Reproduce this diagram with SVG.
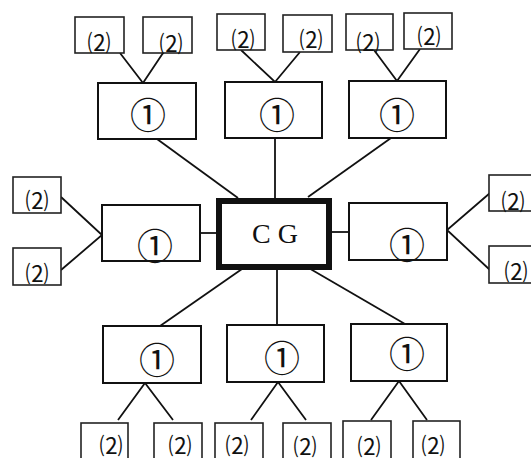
<svg xmlns="http://www.w3.org/2000/svg" width="531" height="458" viewBox="0 0 531 458">
<style>
.b{fill:#fff;stroke:#111;stroke-width:2}
.s{fill:#fff;stroke:#222;stroke-width:1.6}
.c{fill:none;stroke:#111;stroke-width:1.8}
.t1{font-family:"Noto Sans CJK JP","DejaVu Sans",sans-serif;font-size:36px;text-anchor:middle;dominant-baseline:central;fill:#111}
.t2{font-family:"Noto Sans CJK JP","DejaVu Sans",sans-serif;font-size:23px;text-anchor:middle;dominant-baseline:central;fill:#111}
</style>
<rect width="531" height="458" fill="#fff"/>
<g id="connectors" class="c">
<path d="M157 139 L238 198"/>
<path d="M275 138 L275 198"/>
<path d="M391 138 L308 197"/>
<path d="M200 233 L218 233"/>
<path d="M332 232 L349 232"/>
<path d="M242 269 L160 326"/>
<path d="M277 267 L277 325"/>
<path d="M307 267 L405 324"/>
<path d="M120 53 L143 83 L163 53"/>
<path d="M241 50 L275 82 L300 52"/>
<path d="M374 50 L397 81 L420 49"/>
<path d="M61 197 L102 235 L61 270"/>
<path d="M490 193 L447 230 L490 270"/>
<path d="M118 420 L145 383 L173 420"/>
<path d="M251 420 L278 382 L306 420"/>
<path d="M371 420 L399 381 L427 420"/>
</g>
<g id="cg">
<rect x="219" y="201" width="110" height="66" fill="#fff" stroke="#111" stroke-width="6"/>
<text x="275" y="243" font-family="Liberation Serif,serif" font-size="28" text-anchor="middle" fill="#111">C G</text>
</g>
<g id="n1-tl"><rect class="b" x="98" y="83" width="98" height="56"/><text class="t1" x="148" y="113">①</text></g>
<g id="n1-tm"><rect class="b" x="225" y="82" width="97" height="56"/><text class="t1" x="277" y="113">①</text></g>
<g id="n1-tr"><rect class="b" x="349" y="81" width="97" height="57"/><text class="t1" x="397" y="113">①</text></g>
<g id="n1-l"><rect class="b" x="102" y="205" width="98" height="56"/><text class="t1" x="155" y="244">①</text></g>
<g id="n1-r"><rect class="b" x="349" y="203" width="98" height="57"/><text class="t1" x="407" y="243">①</text></g>
<g id="n1-bl"><rect class="b" x="103" y="326" width="98" height="57"/><text class="t1" x="157" y="358">①</text></g>
<g id="n1-bm"><rect class="b" x="227" y="325" width="97" height="57"/><text class="t1" x="282" y="356">①</text></g>
<g id="n1-br"><rect class="b" x="351" y="324" width="96" height="57"/><text class="t1" x="407" y="352">①</text></g>
<g id="n2-1"><rect class="s" x="75" y="17" width="49" height="36"/><text class="t2" x="99" y="41">⑵</text></g>
<g id="n2-2"><rect class="s" x="143" y="17" width="49" height="36"/><text class="t2" x="171" y="42">⑵</text></g>
<g id="n2-3"><rect class="s" x="217" y="14" width="48" height="36"/><text class="t2" x="243" y="38">⑵</text></g>
<g id="n2-4"><rect class="s" x="283" y="15" width="49" height="37"/><text class="t2" x="311" y="38">⑵</text></g>
<g id="n2-5"><rect class="s" x="346" y="14" width="47" height="36"/><text class="t2" x="368" y="41">⑵</text></g>
<g id="n2-6"><rect class="s" x="404" y="13" width="48" height="36"/><text class="t2" x="429" y="35">⑵</text></g>
<g id="n2-7"><rect class="s" x="13" y="177" width="48" height="36"/><text class="t2" x="37" y="199">⑵</text></g>
<g id="n2-8"><rect class="s" x="13" y="248" width="48" height="37"/><text class="t2" x="37" y="272">⑵</text></g>
<g id="n2-9"><rect class="s" x="489" y="175" width="48" height="36"/><text class="t2" x="513" y="200">⑵</text></g>
<g id="n2-10"><rect class="s" x="489" y="246" width="48" height="37"/><text class="t2" x="516" y="270">⑵</text></g>
<g id="n2-11"><rect class="s" x="81" y="423" width="47" height="40"/><text class="t2" x="111" y="444">⑵</text></g>
<g id="n2-12"><rect class="s" x="154" y="423" width="48" height="40"/><text class="t2" x="180" y="444">⑵</text></g>
<g id="n2-13"><rect class="s" x="215" y="423" width="48" height="40"/><text class="t2" x="237" y="444">⑵</text></g>
<g id="n2-14"><rect class="s" x="283" y="423" width="48" height="40"/><text class="t2" x="305" y="445">⑵</text></g>
<g id="n2-15"><rect class="s" x="343" y="421" width="48" height="40"/><text class="t2" x="369" y="445">⑵</text></g>
<g id="n2-16"><rect class="s" x="413" y="421" width="47" height="40"/><text class="t2" x="433" y="444">⑵</text></g>
</svg>
